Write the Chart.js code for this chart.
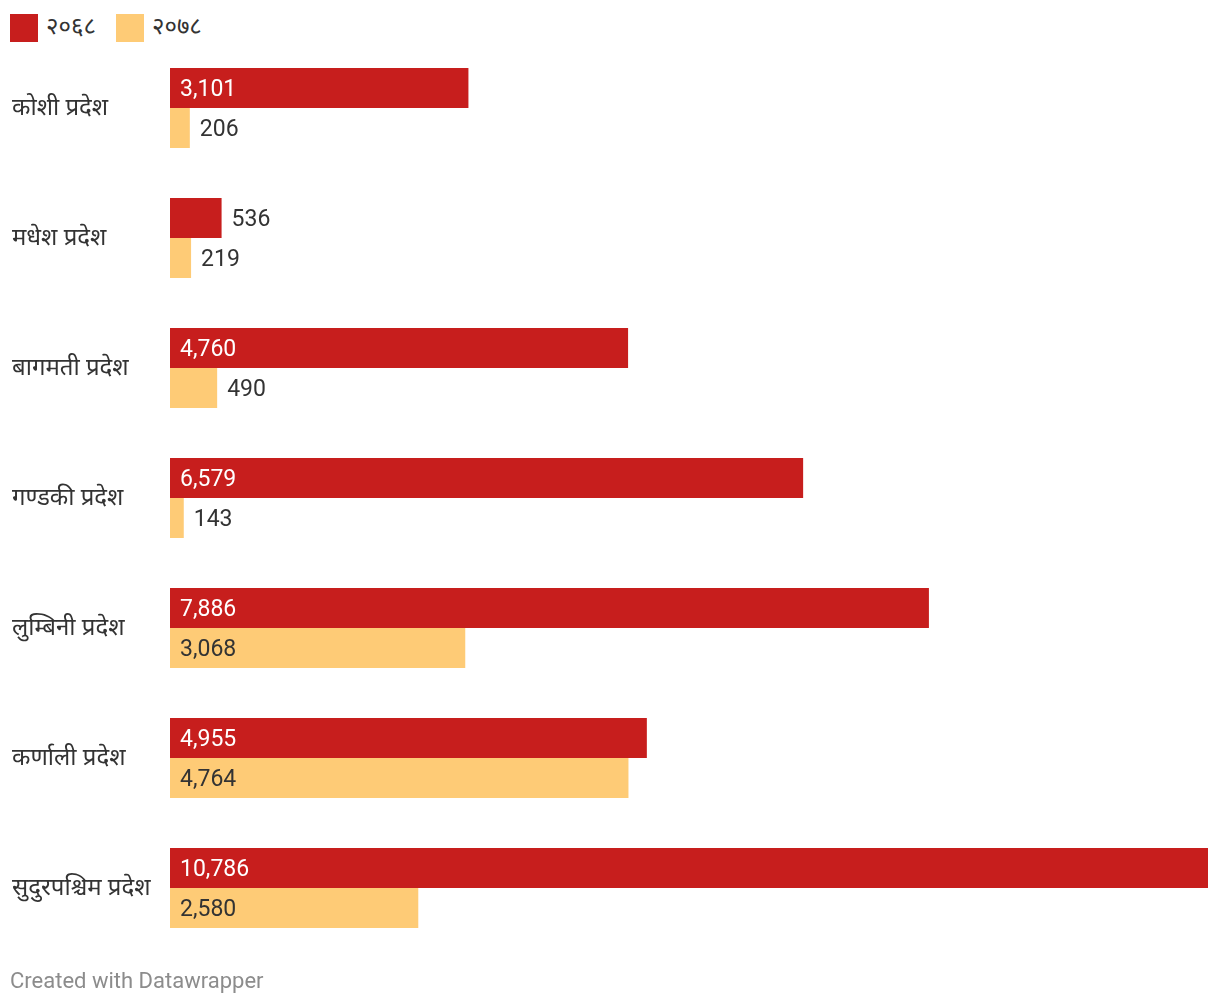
<!DOCTYPE html>
<html>
<head>
<meta charset="utf-8">
<script src="https://cdn.jsdelivr.net/npm/chart.js@4"></script>
<style>
  html, body { margin: 0; padding: 0; background: #fff; }
  body { width: 1220px; height: 1006px; position: relative; overflow: hidden; font-family: Roboto, sans-serif; }
  #legend { position: absolute; left: 10px; top: 14px; height: 28px; display: flex; align-items: center; font-size: 24px; color: #333; font-family: "Noto Sans Devanagari", "Noto Sans", sans-serif; }
  .item { display: flex; align-items: center; margin-right: 20px; }
  .sw { width: 28px; height: 28px; margin-right: 8px; }
  #wrap { position: absolute; left: 0; top: 0; width: 1220px; height: 1006px; }
  #footer { position: absolute; left: 10px; top: 968px; font-size: 22px; color: #8c8c8c; }
</style>
</head>
<body>
<div id="legend"></div>
<div id="wrap"><canvas id="chart"></canvas></div>
<div id="footer">Created with Datawrapper</div>
<script>
// श्रेणी र मानहरू
const provinces = ['कोशी प्रदेश', 'मधेश प्रदेश', 'बागमती प्रदेश', 'गण्डकी प्रदेश', 'लुम्बिनी प्रदेश', 'कर्णाली प्रदेश', 'सुदुरपश्चिम प्रदेश'];
const seriesNames = ['२०६८', '२०७८'];
const values2068 = [3101, 536, 4760, 6579, 7886, 4955, 10786];
const values2078 = [206, 219, 490, 143, 3068, 4764, 2580];
const colors = ['#c71e1d', '#fecb76'];
const labelColors = ['#ffffff', '#333333'];

// legend
const legend = document.getElementById('legend');
seriesNames.forEach((name, i) => {
    const item = document.createElement('div');
    item.className = 'item';
    item.innerHTML = '<div class="sw" style="background:' + colors[i] + '"></div><span>' + name + '</span>';
    legend.appendChild(item);
});

// value labels inside / outside the bars
const valueLabels = {
    id: 'valueLabels',
    afterDatasetsDraw(chart) {
        const ctx = chart.ctx;
        ctx.save();
        ctx.font = '23px Roboto';
        ctx.textBaseline = 'middle';
        ctx.textAlign = 'left';
        chart.data.datasets.forEach((ds, di) => {
            const meta = chart.getDatasetMeta(di);
            meta.data.forEach((bar, i) => {
                const text = ds.data[i].toLocaleString('en-US');
                const w = ctx.measureText(text).width;
                const barW = bar.x - bar.base;
                if (barW > w + 20) {
                    ctx.fillStyle = labelColors[di];
                    ctx.fillText(text, bar.base + 10, bar.y + 2);
                } else {
                    ctx.fillStyle = '#333333';
                    ctx.fillText(text, bar.x + 10, bar.y + 2);
                }
            });
        });
        ctx.restore();
    }
};

const ctx = document.getElementById('chart').getContext('2d');
new Chart(ctx, {
    type: 'bar',
    data: {
        labels: provinces,
        datasets: [
            { label: seriesNames[0], data: values2068, backgroundColor: colors[0] },
            { label: seriesNames[1], data: values2078, backgroundColor: colors[1] }
        ]
    },
    options: {
        indexAxis: 'y',
        responsive: true,
        maintainAspectRatio: false,
        animation: false,
        categoryPercentage: 80 / 130,
        barPercentage: 1,
        layout: { padding: { left: 12, right: 12, top: 43, bottom: 53 } },
        scales: {
            x: { display: false, min: 0, max: 10786 },
            y: {
                grid: { display: false },
                border: { display: false },
                afterFit(scale) { scale.width = 158; },
                ticks: {
                    crossAlign: 'far',
                    labelOffset: 3,
                    color: '#333333',
                    font: { family: '"Noto Sans Devanagari", "Noto Sans", sans-serif', size: 24 }
                }
            }
        },
        plugins: {
            legend: { display: false },
            tooltip: { enabled: false }
        }
    },
    plugins: [valueLabels]
});
</script>
</body>
</html>
